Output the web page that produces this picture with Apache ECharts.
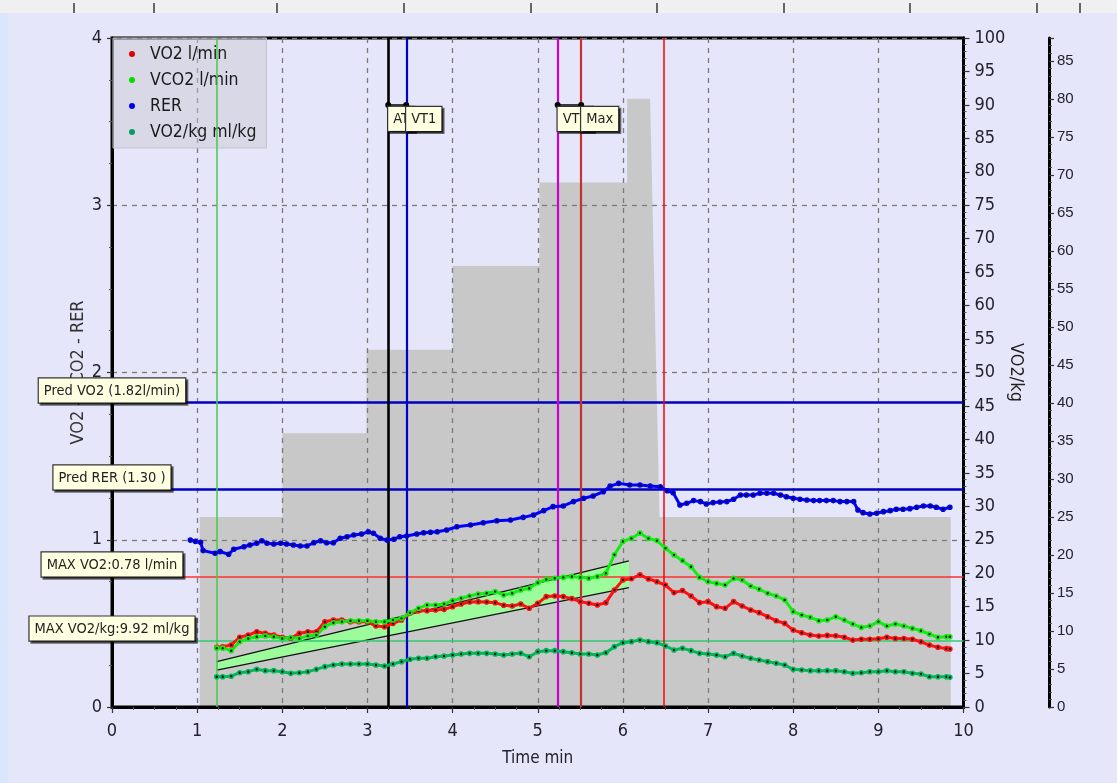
<!DOCTYPE html>
<html><head><meta charset="utf-8">
<script src="https://cdn.jsdelivr.net/npm/echarts@6/dist/echarts.min.js"></script>
<style>html,body{margin:0;padding:0;background:#e6e6fa;overflow:hidden}#c{width:1117px;height:783px}</style>
</head><body><div id="c"></div>
<script>
// ---------- data ----------
const gasTime = [1.23,1.3,1.4,1.5,1.6,1.7,1.8,1.9,2.0,2.1,2.2,2.3,2.4,2.5,2.6,2.7,2.8,2.9,3.0,3.1,3.2,3.3,3.4,3.5,3.6,3.7,3.8,3.9,4.0,4.1,4.2,4.3,4.4,4.5,4.6,4.7,4.8,4.9,5.0,5.1,5.2,5.3,5.4,5.5,5.6,5.7,5.8,5.9,6.0,6.1,6.2,6.3,6.4,6.5,6.6,6.7,6.8,6.9,7.0,7.1,7.2,7.3,7.4,7.5,7.6,7.7,7.8,7.9,8.0,8.1,8.2,8.3,8.4,8.5,8.6,8.7,8.8,8.9,9.0,9.1,9.2,9.3,9.4,9.5,9.6,9.7,9.8,9.84];
const vo2 = [0.357,0.36,0.371,0.417,0.43,0.45,0.44,0.43,0.417,0.411,0.44,0.45,0.45,0.51,0.52,0.52,0.51,0.51,0.51,0.484,0.48,0.50,0.52,0.56,0.575,0.576,0.58,0.584,0.60,0.616,0.628,0.63,0.628,0.624,0.608,0.604,0.616,0.59,0.62,0.66,0.664,0.66,0.648,0.63,0.62,0.61,0.624,0.70,0.76,0.767,0.79,0.766,0.749,0.729,0.684,0.696,0.664,0.624,0.63,0.60,0.59,0.63,0.604,0.58,0.564,0.54,0.516,0.50,0.46,0.444,0.43,0.424,0.428,0.426,0.417,0.40,0.405,0.405,0.408,0.417,0.41,0.41,0.405,0.39,0.37,0.357,0.349,0.347];
const vco2 = [0.352,0.352,0.337,0.39,0.41,0.42,0.425,0.42,0.41,0.415,0.41,0.425,0.43,0.48,0.504,0.51,0.516,0.516,0.516,0.51,0.51,0.52,0.53,0.564,0.59,0.61,0.61,0.616,0.636,0.65,0.664,0.676,0.68,0.69,0.67,0.68,0.70,0.71,0.743,0.763,0.77,0.775,0.78,0.775,0.77,0.78,0.80,0.91,0.99,1.008,1.04,1.008,0.995,0.949,0.909,0.875,0.839,0.775,0.749,0.739,0.729,0.769,0.759,0.723,0.704,0.68,0.664,0.64,0.57,0.55,0.536,0.516,0.52,0.54,0.52,0.496,0.476,0.484,0.51,0.484,0.496,0.484,0.47,0.456,0.436,0.417,0.42,0.42];
const vo2kg = [4.53,4.53,4.6,5.13,5.28,5.63,5.43,5.43,5.28,5.03,5.13,5.28,5.63,6.03,6.28,6.43,6.43,6.43,6.43,6.28,6.13,6.43,6.78,7.13,7.28,7.27,7.52,7.62,7.77,7.92,8.02,8.02,8.02,7.92,7.77,7.92,8.02,7.52,8.27,8.42,8.42,8.27,8.12,7.92,7.92,7.77,8.12,9.02,9.62,9.77,10.0,9.77,9.62,9.12,8.52,8.77,8.42,8.02,7.92,7.77,7.52,8.02,7.62,7.27,7.02,6.78,6.53,6.28,5.63,5.53,5.43,5.43,5.43,5.43,5.28,5.03,5.13,5.28,5.28,5.43,5.28,5.28,5.03,4.93,4.53,4.53,4.53,4.43];
const rerTime = [0.92,0.98,1.04,1.07,1.21,1.27,1.37,1.43,1.55,1.62,1.70,1.76,1.82,1.90,1.98,2.05,2.13,2.21,2.29,2.37,2.45,2.52,2.60,2.68,2.76,2.84,2.93,3.01,3.07,3.15,3.23,3.31,3.38,3.46,3.58,3.66,3.74,3.82,3.93,4.05,4.21,4.36,4.52,4.68,4.83,4.95,5.07,5.18,5.30,5.42,5.54,5.65,5.77,5.85,5.95,6.08,6.20,6.32,6.44,6.52,6.59,6.67,6.75,6.83,6.91,6.98,7.06,7.14,7.22,7.30,7.38,7.45,7.53,7.61,7.69,7.77,7.85,7.92,8.00,8.08,8.16,8.24,8.31,8.39,8.47,8.55,8.63,8.71,8.76,8.82,8.90,8.98,9.06,9.14,9.21,9.29,9.37,9.45,9.53,9.61,9.68,9.76,9.84];
const rer = [0.998,0.99,0.985,0.935,0.919,0.929,0.913,0.943,0.958,0.969,0.979,0.994,0.979,0.975,0.979,0.975,0.969,0.963,0.963,0.982,0.994,0.982,0.982,1.009,1.018,1.028,1.034,1.048,1.039,1.009,0.998,1.003,1.018,1.022,1.034,1.042,1.045,1.048,1.058,1.078,1.088,1.102,1.114,1.118,1.134,1.148,1.174,1.198,1.202,1.228,1.248,1.262,1.287,1.321,1.337,1.327,1.327,1.321,1.317,1.293,1.281,1.208,1.218,1.234,1.228,1.214,1.222,1.226,1.228,1.242,1.268,1.268,1.268,1.278,1.278,1.278,1.268,1.257,1.248,1.242,1.238,1.234,1.234,1.234,1.234,1.228,1.228,1.228,1.178,1.162,1.154,1.158,1.168,1.174,1.182,1.182,1.186,1.194,1.202,1.202,1.194,1.182,1.194];
const loadTime = [1.03,1.03,2.0,2.0,2.99,2.99,4.0,4.0,5.02,5.02,6.05,6.05,6.32,6.43,9.85,9.85];
const load = [0,25,25,36,36,47,47,58,58,69,69,80,80,25,25,0];
const bandTime = [1.23,6.07];
const bandLow = [0.221,0.714];
const bandHigh = [0.271,0.873];
const refNames = ['Pred VO2 (1.82l/min)','Pred RER (1.30 )','MAX VO2:0.78 l/min'];
const refValues = [1.82,1.30,0.78];
const maxVo2kgName = 'MAX VO2/kg:9.92 ml/kg';
const maxVo2kgValue = 9.92;
const eventNames = ['AT','VT1','VT2','Max'];
const eventTimes = [3.244,3.455,5.234,5.51];
const eventLevel = 3.6;
const startTime = 1.225, endTime = 6.48;

// ---------- styling ----------
const NARROW = "'Liberation Sans Narrow','DejaVu Sans Condensed','Liberation Sans',sans-serif";
const TXT = '#22222e';
const C_VO2 = '#ff1010', C_VCO2 = '#10ee10', C_RER = '#0000ff', C_KG = '#00b85a';
const pairs = (xs, ys) => xs.map((x, i) => [x, ys[i]]);

function dataSeries(name, xs, ys, color, yIdx, extra) {
  return Object.assign({
    name, type: 'line', yAxisIndex: yIdx, data: pairs(xs, ys),
    symbol: 'circle', symbolSize: 4, showSymbol: true,
    itemStyle: { color: '#111', borderColor: color, borderWidth: 1.6 },
    lineStyle: { color: color, width: 3 },
    emphasis: { disabled: true }, z: 5
  }, extra || {});
}
const labelBox = {
  show: true, backgroundColor: '#ffffe1', borderColor: '#333', borderWidth: 1.2,
  padding: [5, 5, 4, 5], fontSize: 14.5, fontFamily: NARROW, color: '#222',
  shadowColor: 'rgba(0,0,0,0.55)', shadowOffsetX: 2, shadowOffsetY: 2, shadowBlur: 0,
  formatter: p => p.name
};

const chart = echarts.init(document.getElementById('c'), null, { renderer: 'canvas' });
const evColors = ['#000000', '#0000cc', '#cc00cc', '#c83030'];

chart.setOption({
  animation: false,
  backgroundColor: '#e6e6fa',
  graphic: [
    { type: 'rect', shape: { x: 0, y: 0, width: 1117, height: 13 }, style: { fill: '#f0f0f0' }, z: -10 },
    { type: 'rect', shape: { x: 0, y: 13, width: 8, height: 770 }, style: { fill: '#d9e6fb' }, z: -10 }
  ].concat([74,154,277,404,531,657,784,910,1037,1080].map(x => ({
    type: 'line', shape: { x1: x, y1: 3, x2: x, y2: 13 }, style: { stroke: '#666', lineWidth: 2 }, z: -9
  }))),
  grid: { left: 112, right: 153.5, top: 38, bottom: 76, show: true, borderColor: '#000', borderWidth: 3, backgroundColor: 'transparent' },
  legend: {
    left: 113, top: 38, orient: 'vertical', padding: [6, 10, 6, 16], itemGap: 6,
    itemWidth: 26, itemHeight: 6, backgroundColor: 'rgba(200,200,208,0.45)',
    borderColor: '#c4c4cc', borderWidth: 1, selectedMode: false,
    textStyle: { fontSize: 17.5, lineHeight: 20, fontFamily: NARROW, color: '#1a1a1a' },
    data: [
      { name: 'VO2 l/min', icon: 'circle', itemStyle: { color: '#e00000', borderWidth: 0 } },
      { name: 'VCO2 l/min', icon: 'circle', itemStyle: { color: '#00dd00', borderWidth: 0 } },
      { name: 'RER', icon: 'circle', itemStyle: { color: '#0000ee', borderWidth: 0 } },
      { name: 'VO2/kg ml/kg', icon: 'circle', itemStyle: { color: '#00a060', borderWidth: 0 } }
    ]
  },
  xAxis: {
    type: 'value', min: 0, max: 10, interval: 1,
    name: 'Time min', nameLocation: 'middle', nameGap: 43, nameMoveOverlap: false,
    nameTextStyle: { fontSize: 17, fontFamily: NARROW, color: TXT },
    axisLine: { lineStyle: { color: '#000', width: 3 } },
    axisTick: { show: true, length: 6, lineStyle: { color: '#333', width: 1.2 } },
    minorTick: { show: true, splitNumber: 4, length: 3, lineStyle: { color: '#555' } },
    axisLabel: { fontSize: 18, fontFamily: NARROW, color: TXT, margin: 15 },
    splitLine: { show: true, lineStyle: { color: '#7a7a7a', type: [5, 5], width: 1.3 } }
  },
  yAxis: [
    {
      type: 'value', min: 0, max: 4, interval: 1, position: 'left',
      name: 'VO2 - VCO2 - RER', nameLocation: 'middle', nameGap: 25, nameMoveOverlap: false,
      nameTextStyle: { fontSize: 18, fontFamily: NARROW, color: '#333' },
      axisLine: { show: true, lineStyle: { color: '#000', width: 3 } },
      axisTick: { show: true, length: 5, lineStyle: { color: '#333', width: 1.2 } },
      minorTick: { show: true, splitNumber: 4, length: 3, lineStyle: { color: '#555' } },
      axisLabel: { fontSize: 18, fontFamily: NARROW, color: TXT, margin: 10 },
      splitLine: { show: true, lineStyle: { color: '#7a7a7a', type: [5, 5], width: 1.3 } }
    },
    {
      type: 'value', min: 0, max: 100, interval: 5, position: 'right',
      name: 'VO2/kg', nameLocation: 'middle', nameGap: 43, nameRotate: -90, nameMoveOverlap: false,
      nameTextStyle: { fontSize: 18, fontFamily: NARROW, color: '#222' },
      axisLine: { show: true, lineStyle: { color: '#000', width: 3 } },
      axisTick: { show: true, length: 6, lineStyle: { color: '#333', width: 1.2 } },
      minorTick: { show: true, splitNumber: 5, length: 3, lineStyle: { color: '#555' } },
      axisLabel: { fontSize: 18, fontFamily: NARROW, color: TXT, margin: 11 },
      splitLine: { show: false }
    },
    {
      type: 'value', min: 0, max: 88, interval: 5, position: 'right', offset: 85.5,
      axisLine: { show: true, lineStyle: { color: '#000', width: 3 } },
      axisTick: { show: true, length: 5, lineStyle: { color: '#333', width: 1.2 } },
      minorTick: { show: true, splitNumber: 5, length: 3, lineStyle: { color: '#555' } },
      axisLabel: { fontSize: 15, fontFamily: "'Liberation Sans',Arial,sans-serif", color: TXT, margin: 8,
        formatter: v => (v % 5 === 0 ? String(v) : '') },
      splitLine: { show: false }
    }
  ],
  series: [
    {
      name: 'load', type: 'line', yAxisIndex: 2, data: pairs(loadTime, load),
      symbol: 'none', lineStyle: { width: 0 }, areaStyle: { color: '#c8c8c8', opacity: 1 },
      z: -1, silent: true
    },
    {
      name: 'band', type: 'custom', yAxisIndex: 0, data: [[bandTime[0], bandLow[0]]], z: 3, silent: true,
      renderItem: (params, api) => {
        const l0 = api.coord([bandTime[0], bandLow[0]]), l1 = api.coord([bandTime[1], bandLow[1]]);
        const h0 = api.coord([bandTime[0], bandHigh[0]]), h1 = api.coord([bandTime[1], bandHigh[1]]);
        return { type: 'group', children: [
          { type: 'polygon', shape: { points: [l0, l1, h1, h0] }, style: { fill: '#9cfc9c' } },
          { type: 'line', shape: { x1: l0[0], y1: l0[1], x2: l1[0], y2: l1[1] }, style: { stroke: '#111', lineWidth: 1.3 } },
          { type: 'line', shape: { x1: h0[0], y1: h0[1], x2: h1[0], y2: h1[1] }, style: { stroke: '#111', lineWidth: 1.3 } }
        ] };
      }
    },
    dataSeries('VO2/kg ml/kg', gasTime, vo2kg, C_KG, 1, {
      markLine: { silent: true, symbol: ['none', 'none'], label: { show: false },
        data: [{ yAxis: maxVo2kgValue, lineStyle: { color: '#30cc70', width: 1.6, type: 'solid' } }] },
      markPoint: { symbol: 'rect', symbolSize: 0.1, label: Object.assign({}, labelBox, { position: 'top', distance: 0 }),
        data: [{ name: maxVo2kgName, coord: [0, maxVo2kgValue] }] }
    }),
    dataSeries('VO2 l/min', gasTime, vo2, C_VO2, 0, {
      markLine: { silent: true, symbol: ['none', 'none'], label: { show: false },
        data: [
          { yAxis: refValues[0], lineStyle: { color: '#0000c0', width: 2.6, type: 'solid' } },
          { yAxis: refValues[1], lineStyle: { color: '#0000c0', width: 2.6, type: 'solid' } },
          { yAxis: refValues[2], lineStyle: { color: '#ff3030', width: 1.6, type: 'solid' } },
          { xAxis: startTime, lineStyle: { color: '#44cc44', width: 1.5, type: 'solid' } },
          { xAxis: endTime, lineStyle: { color: '#ff0000', width: 1.5, type: 'solid' } }
        ].concat(eventTimes.map((t, i) => ({ xAxis: t, lineStyle: { color: evColors[i], width: i === 0 ? 2.6 : 2.2, type: 'solid' } })))
        .concat([
          [{ coord: [eventTimes[0], eventLevel], lineStyle: { color: '#000', width: 1.5, type: 'solid' } }, { coord: [eventTimes[1], eventLevel] }],
          [{ coord: [eventTimes[2], eventLevel], lineStyle: { color: '#000', width: 1.5, type: 'solid' } }, { coord: [eventTimes[3], eventLevel] }]
        ])
      },
      markPoint: {
        symbol: 'circle', symbolSize: 6, itemStyle: { color: '#000', borderWidth: 0 },
        label: Object.assign({}, labelBox, { position: [3, 5] }),
        data: refNames.map((n, i) => ({ name: n, coord: [0, refValues[i]], symbolSize: 0.1,
            label: Object.assign({}, labelBox, { position: 'top', distance: 0 }) }))
          .concat(eventNames.map((n, i) => ({ name: n, coord: [eventTimes[i], eventLevel] })))
      }
    }),
    dataSeries('VCO2 l/min', gasTime, vco2, C_VCO2, 0),
    dataSeries('RER', rerTime, rer, C_RER, 0)
  ]
});
</script></body></html>
